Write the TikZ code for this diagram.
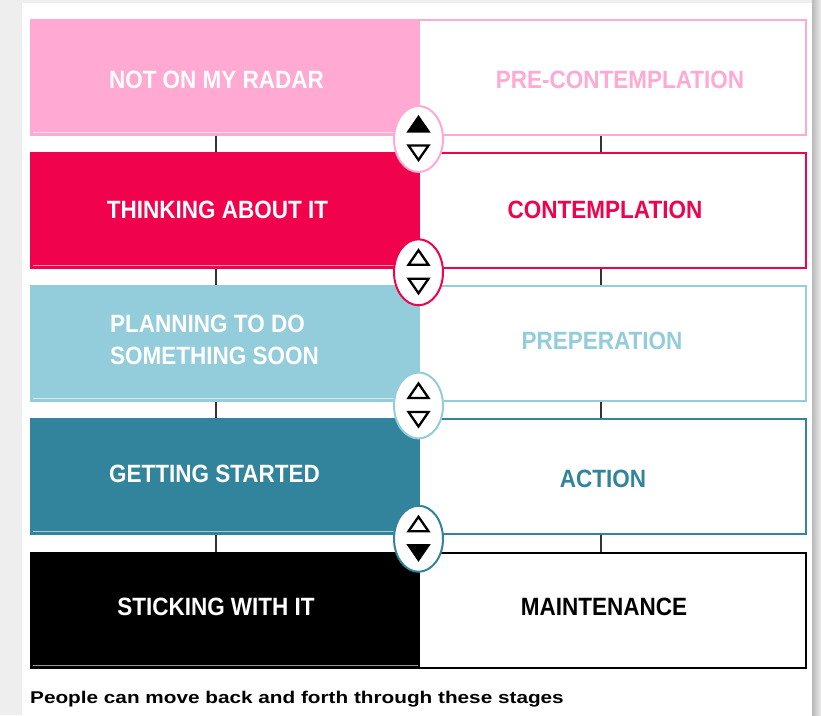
\documentclass[tikz,border=0pt]{standalone}
\usepackage{fontspec}
\setmainfont{Liberation Sans}
\newfontfamily\narrowfont[FakeStretch=0.9]{Liberation Sans}
\newfontfamily\widefont[FakeStretch=1.22]{Liberation Sans}
\usetikzlibrary{shapes.geometric,calc}
\definecolor{cpink}{HTML}{FFA9D3}
\definecolor{cred}{HTML}{F0024C}
\definecolor{cblue}{HTML}{93CDDC}
\definecolor{cteal}{HTML}{31849B}
\definecolor{ctick}{HTML}{333333}
\definecolor{cbg}{HTML}{EEEEEE}
\begin{document}
\begin{tikzpicture}[x=1pt,y=-1pt,
  leftbox/.style={rectangle, draw=#1, fill=#1, line width=2pt, minimum width=387pt, minimum height=115pt, inner sep=0pt, outer sep=0pt},
  rightbox/.style={rectangle, draw=#1, fill=white, line width=2pt, minimum width=387pt, minimum height=115pt, inner sep=0pt, outer sep=0pt},
  oval/.style={ellipse, draw=#1, fill=white, line width=2pt, minimum width=49pt, minimum height=66pt, inner sep=0pt},
  lefttext/.style={text=white, inner sep=0pt, font=\narrowfont\bfseries\fontsize{25}{32}\selectfont},
  righttext/.style={text=#1, inner sep=0pt, font=\narrowfont\bfseries\fontsize{25}{32}\selectfont},
  tickline/.style={draw=ctick, line width=1.2pt, shorten >=1pt, shorten <=1pt},
  shine/.style={draw=white, draw opacity=0.6, line width=1pt},
  tri/.style={draw=black, line width=2.3pt, line join=miter},
  upopen/.pic={\draw[tri] (-10,-7.5) -- (10,-7.5) -- (0,-22) -- cycle;},
  upfill/.pic={\draw[tri, fill=black] (-10,-7.5) -- (10,-7.5) -- (0,-22) -- cycle;},
  downopen/.pic={\draw[tri] (-10,6.5) -- (10,6.5) -- (0,21) -- cycle;},
  downfill/.pic={\draw[tri, fill=black] (-10,6.5) -- (10,6.5) -- (0,21) -- cycle;},
]
\useasboundingbox (0,0) rectangle (821,715);
% page background
\fill[cbg] (0,0) rectangle (821,715);
\shade[left color=gray!55, right color=cbg] (812,0) rectangle (821,715);
\fill[white] (22,3) rectangle (812,715);

% right boxes
\node[rightbox=cpink] (R1) at (612.5,77) {};
\node[rightbox=cred]  (R2) at (612.5,210.25) {};
\node[rightbox=cblue] (R3) at (612.5,343.5) {};
\node[rightbox=cteal] (R4) at (612.5,476.75) {};
\node[rightbox=black] (R5) at (612.5,610) {};
% left boxes
\node[leftbox=cpink] (L1) at (224.5,77) {};
\node[leftbox=cred]  (L2) at (224.5,210.25) {};
\node[leftbox=cblue] (L3) at (224.5,343.5) {};
\node[leftbox=cteal] (L4) at (224.5,476.75) {};
\node[leftbox=black] (L5) at (224.5,610) {};
% highlight lines at the bottom of left boxes
\foreach \n in {L1,L2,L3,L4,L5}{
  \draw[shine] ([shift={(2,-2.5)}]\n.south west) -- ([shift={(0,-2.5)}]\n.south east);
}
% ticks between rows
\foreach \a/\b in {1/2,2/3,3/4,4/5}{
  \draw[tickline] ([xshift=-8.5pt]L\a.south) -- ([xshift=-8.5pt]L\b.north);
  \draw[tickline] ([xshift=-11.5pt]R\a.south) -- ([xshift=-11.5pt]R\b.north);
}
% labels
\node[lefttext] (T1) at (216.5,80) {NOT ON MY RADAR};
\node[lefttext] (T2) at (217.5,210) {THINKING ABOUT IT};
\node[lefttext, anchor=west, align=left] (T3) at (110,340) {PLANNING TO DO\\SOMETHING SOON};
\node[lefttext] (T4) at (214.5,474) {GETTING STARTED};
\node[lefttext] (T5) at (216,607) {STICKING WITH IT};
\node[righttext=cpink] (S1) at (620,80) {PRE-CONTEMPLATION};
\node[righttext=cred]  (S2) at (605,210) {CONTEMPLATION};
\node[righttext=cblue] (S3) at (602,341) {PREPERATION};
\node[righttext=cteal] (S4) at (603,479) {ACTION};
\node[righttext=black] (S5) at (604,607) {MAINTENANCE};
% ovals with arrows
\node[oval=cpink] (O1) at (418.5,139) {};
\node[oval=cred]  (O2) at (418.5,272.25) {};
\node[oval=cblue] (O3) at (418.5,405.5) {};
\node[oval=cteal] (O4) at (418.5,538.75) {};
\pic at (O1.center) {upfill};
\pic at (O1.center) {downopen};
\pic at (O2.center) {upopen};
\pic at (O2.center) {downopen};
\pic at (O3.center) {upopen};
\pic at (O3.center) {downopen};
\pic at (O4.center) {upopen};
\pic at (O4.center) {downfill};
% caption
\node[anchor=base west, inner sep=0pt, font=\widefont\bfseries\fontsize{17}{20}\selectfont] (cap) at (30,703) {People can move back and forth through these stages};
\end{tikzpicture}
\end{document}
